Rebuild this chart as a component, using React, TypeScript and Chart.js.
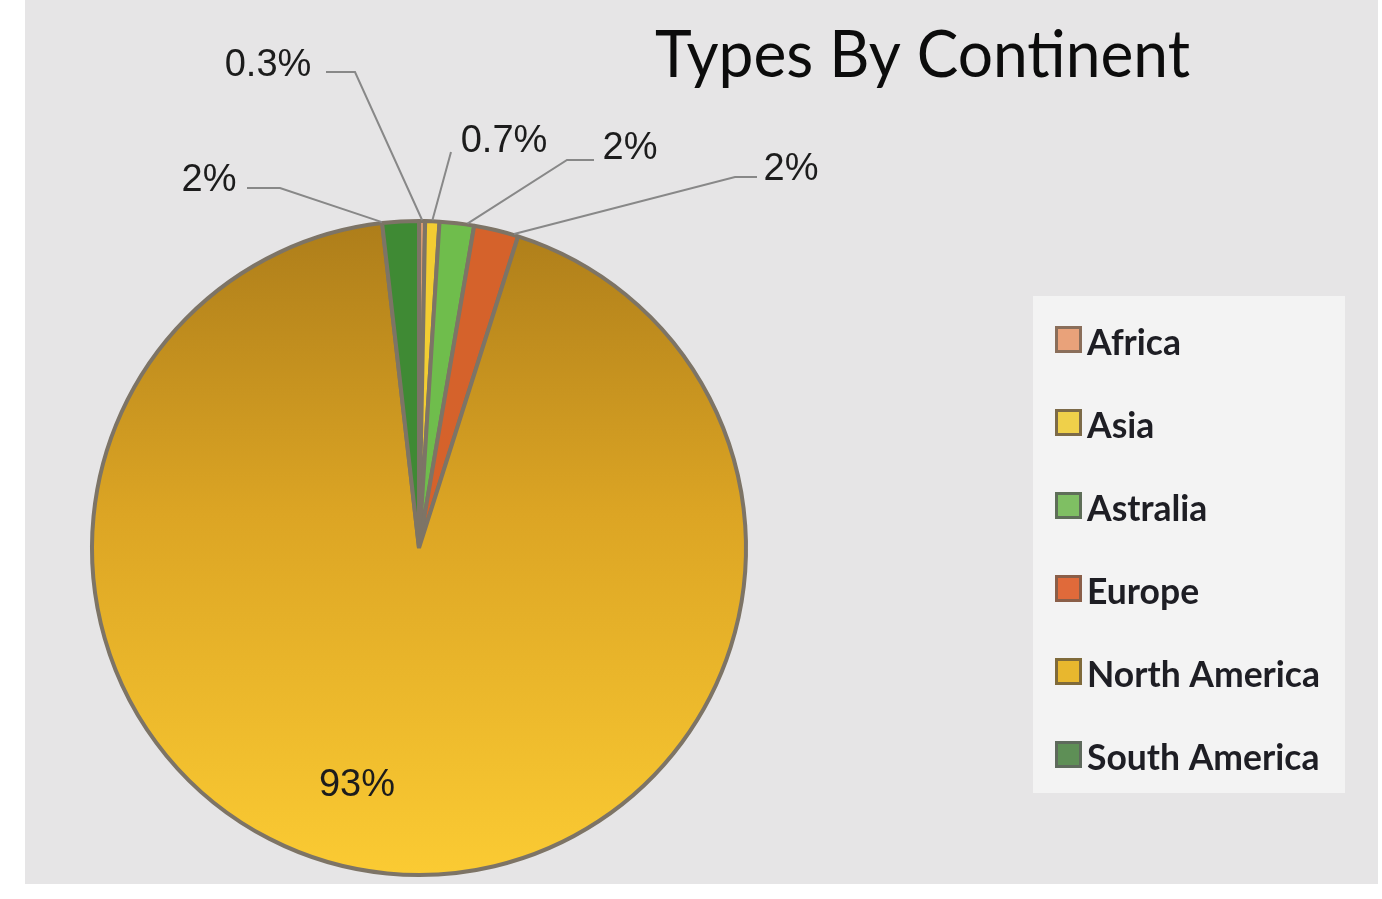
import React, { useEffect, useRef } from "react";
import { Chart, registerables } from "chart.js";

Chart.register(...registerables);

// ---- data ----
const continents = ["Africa", "Asia", "Astralia", "Europe", "North America", "South America"];
const shares = [0.3, 0.7, 1.7, 2.2, 93.3, 1.8];
const chartTitle = "Types By Continent";

// ---- styles ----
const sliceColors = ["#d69a72", "#f2cd32", "#6fbd4c", "#d5622b", "#e3ad28", "#3f8a34"];
const legendFill = ["#e9a27a", "#efd04a", "#7fbf63", "#e06a3a", "#e8b72e", "#5e8f56"];
const legendBorder = ["#8a6e5a", "#7c6a48", "#5e6e58", "#8a5e48", "#7f6a3a", "#5e6a5c"];

// label placement (canvas coords): text centre, leader-line points, anchor fraction along arc
const labelPlacement = [
  { x: 243, y: 62, line: [[301, 72], [330, 72]], frac: 0.5 },
  { x: 479, y: 138, line: [[426, 152]], frac: 0.5 },
  { x: 605, y: 145, line: [[569, 160], [542, 160]], frac: 0.8 },
  { x: 766, y: 166, line: [[732, 177], [710, 177]], frac: 0.9 },
  { x: 332, y: 782, line: [], frac: 0.5 },
  { x: 184, y: 177, line: [[222, 188], [255, 188]], frac: 0.0 },
];

const CW = 1353;
const CH = 884;

function fmtPct(v: number, total: number) {
  const p = (v / total) * 100;
  return (p < 1 ? p.toFixed(1) : String(Math.round(p))) + "%";
}

function fitText(ctx: CanvasRenderingContext2D, text: string, x: number, y: number, font: string, sx: number, align: CanvasTextAlign) {
  ctx.save();
  ctx.font = font;
  ctx.translate(x, y);
  ctx.scale(sx, 1);
  ctx.textAlign = align;
  ctx.textBaseline = "alphabetic";
  ctx.fillText(text, 0, 0);
  ctx.restore();
}

const decorPlugin = {
  id: "decor",
  beforeDraw(chart: any) {
    const ctx = chart.ctx as CanvasRenderingContext2D;
    ctx.save();
    ctx.fillStyle = "#e6e5e6";
    ctx.fillRect(0, 0, chart.width, chart.height);
    ctx.restore();
  },
  afterDraw(chart: any) {
    const ctx = chart.ctx as CanvasRenderingContext2D;
    const meta = chart.getDatasetMeta(0);
    const data = chart.data.datasets[0].data as number[];
    const total = data.reduce((a, b) => a + b, 0);

    // leader lines + labels
    meta.data.forEach((arc: any, i: number) => {
      const p = arc.getProps(["x", "y", "startAngle", "endAngle", "outerRadius"], true);
      const pl = labelPlacement[i];
      const ang = p.startAngle + (p.endAngle - p.startAngle) * pl.frac;
      const ax = p.x + Math.cos(ang) * (p.outerRadius + 1);
      const ay = p.y + Math.sin(ang) * (p.outerRadius + 1);
      if (pl.line.length) {
        ctx.save();
        ctx.strokeStyle = "#888888";
        ctx.lineWidth = 2;
        ctx.beginPath();
        ctx.moveTo(pl.line[0][0], pl.line[0][1]);
        for (let k = 1; k < pl.line.length; k++) ctx.lineTo(pl.line[k][0], pl.line[k][1]);
        ctx.lineTo(ax, ay);
        ctx.stroke();
        ctx.restore();
      }
      ctx.save();
      ctx.fillStyle = "#1c1c1c";
      fitText(ctx, fmtPct(data[i], total), pl.x, pl.y + 13.6, "38px 'Liberation Sans', Arial, sans-serif", 1, "center");
      ctx.restore();
    });

    // title
    ctx.save();
    ctx.fillStyle = "#0c0c0c";
    const tFont = "65px Lato, 'Open Sans', sans-serif";
    ctx.font = tFont;
    const tw = ctx.measureText(chartTitle).width;
    fitText(ctx, chartTitle, 897.5, 77, tFont, 535 / tw, "center");
    ctx.restore();

    // legend
    ctx.save();
    ctx.fillStyle = "#f3f3f3";
    ctx.fillRect(1008, 296, 312, 497);
    const lFont = "bold 36px Lato, 'Open Sans', sans-serif";
    ctx.font = lFont;
    const lw = ctx.measureText("North America").width;
    const ls = 233 / lw;
    const labels = chart.data.labels as string[];
    labels.forEach((lab, i) => {
      const base = 355 + i * 83;
      const sqTop = base - 29;
      ctx.fillStyle = legendBorder[i];
      ctx.fillRect(1030, sqTop, 27, 27);
      ctx.fillStyle = legendFill[i];
      ctx.fillRect(1033, sqTop + 3, 21, 21);
      ctx.fillStyle = "#1e1e24";
      fitText(ctx, lab, 1062, base, lFont, ls, "left");
    });
    ctx.restore();
  },
};

export default function App() {
  const ref = useRef<HTMLCanvasElement | null>(null);

  useEffect(() => {
    if (!ref.current) return;
    const chart = new Chart(ref.current, {
      type: "pie",
      data: {
        labels: continents,
        datasets: [
          {
            data: shares,
            backgroundColor: (c: any) => {
              const i = c.dataIndex;
              if (i === 4) {
                const area = c.chart.chartArea;
                if (!area) return sliceColors[i];
                const g = c.chart.ctx.createLinearGradient(0, area.top, 0, area.bottom);
                g.addColorStop(0, "#ad7d1a");
                g.addColorStop(0.45, "#dca524");
                g.addColorStop(1, "#fbcb33");
                return g;
              }
              return sliceColors[i];
            },
            borderColor: "#7d7466",
            borderWidth: 4,
          },
        ],
      },
      options: {
        responsive: false,
        animation: false,
        rotation: 0,
        layout: { padding: { left: 65, top: 219, right: 630, bottom: 7 } },
        plugins: {
          legend: { display: false },
          title: { display: false },
          tooltip: { enabled: false },
        },
      },
      plugins: [decorPlugin],
    });
    return () => chart.destroy();
  }, []);

  return (
    <div style={{ position: "absolute", left: 0, top: 0, width: 1382, height: 899, background: "#ffffff", overflow: "hidden" }}>
      <canvas
        ref={ref}
        width={CW}
        height={CH}
        style={{ position: "absolute", left: 25, top: 0, width: CW, height: CH }}
      />
    </div>
  );
}
